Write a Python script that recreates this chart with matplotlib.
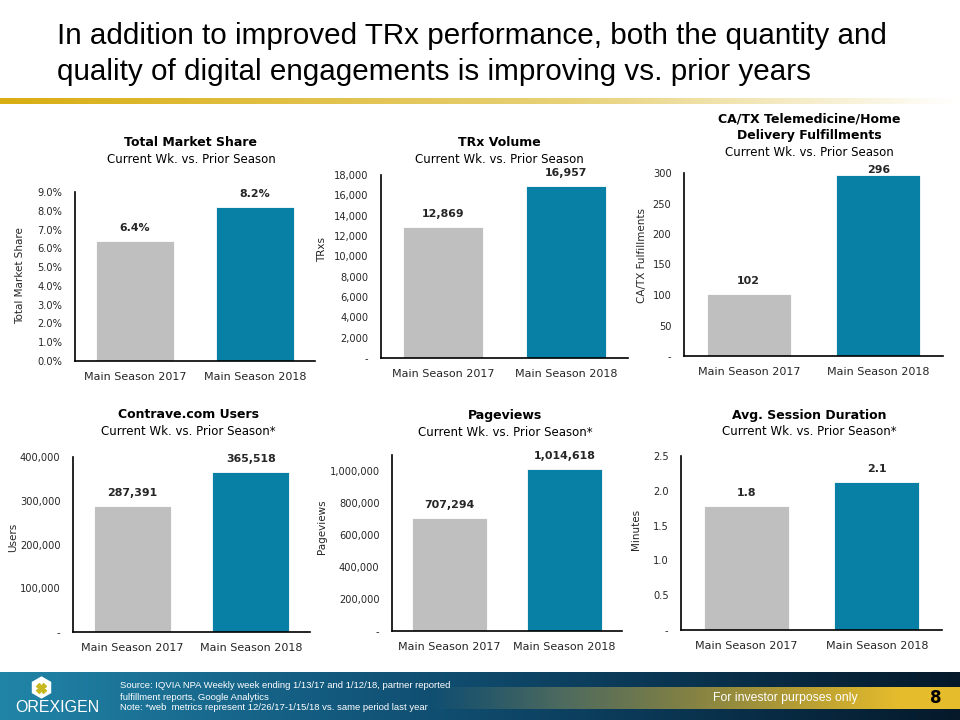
import numpy as np
import matplotlib
matplotlib.use("Agg")
import matplotlib.pyplot as plt
from matplotlib.colors import to_rgb
from matplotlib.ticker import FuncFormatter

plt.rcParams['font.family'] = ['DejaVu Sans']
NARROW = ['Liberation Sans', 'DejaVu Sans']

# data
categories = ["Main Season 2017", "Main Season 2018"]
share = [6.4, 8.2]
trx = [12869, 16957]
fulfill = [102, 296]
users = [287391, 365518]
pageviews = [707294, 1014618]
minutes = [1.78, 2.13]

GREY = "#BFBFBF"
BLUE = "#0880A6"
TXT = "#262626"

fig = plt.figure(figsize=(9.6, 7.2), dpi=100)

# background axes in pixel coordinates for decorations
bg = fig.add_axes([0, 0, 1, 1], zorder=-1)
bg.set_xlim(0, 960)
bg.set_ylim(720, 0)
bg.axis("off")

# main title
bg.text(57, 36, "In addition to improved TRx performance, both the quantity and",
        fontsize=21.3, family=NARROW, color="black", va="center", ha="left")
bg.text(57, 72, "quality of digital engagements is improving vs. prior years",
        fontsize=21.3, family=NARROW, color="black", va="center", ha="left")

# gold rule under title
gx = np.linspace(0, 1, 960)
c0 = np.array(to_rgb("#D9AE12"))
c1 = np.array(to_rgb("#E8D27A"))
c2 = np.array([1.0, 1.0, 1.0])
rule = np.zeros((1, 960, 3))
for i, t in enumerate(gx):
    if t < 0.6:
        rule[0, i] = c0 + (c1 - c0) * t / 0.6
    else:
        rule[0, i] = c1 + (c2 - c1) * (t - 0.6) / 0.4
bg.imshow(rule, extent=(0, 960, 104, 98), aspect="auto", interpolation="bilinear")

# footer band
H, W = 48, 960
stops = [(0.0, "#2185A8"), (0.35, "#13597E"), (0.65, "#0B3A58"), (1.0, "#05192A")]
foot = np.zeros((H, W, 3))
xs = np.linspace(0, 1, W)
for j, t in enumerate(xs):
    for k in range(len(stops) - 1):
        a, ca = stops[k]
        b, cb = stops[k + 1]
        if a <= t <= b:
            f = (t - a) / (b - a)
            foot[:, j] = np.array(to_rgb(ca)) * (1 - f) + np.array(to_rgb(cb)) * f
            break
gold = np.array(to_rgb("#D4A911"))
for j in range(W):
    al = np.clip((j - 430) / 470, 0, 1) ** 1.1
    band = foot[15:37, j] * (1 - al) + (gold * 0.95 + 0.05) * al
    foot[15:37, j] = np.clip(band + 0.06 * min(1.0, al * 4), 0, 1)
bg.imshow(foot, extent=(0, 960, 720, 672), aspect="auto", interpolation="bilinear")

bg.text(120, 686, "Source: IQVIA NPA Weekly week ending 1/13/17 and 1/12/18, partner reported",
        fontsize=6.8, family=NARROW, color="white", va="center")
bg.text(120, 697, "fulfillment reports, Google Analytics",
        fontsize=6.8, family=NARROW, color="white", va="center")
bg.text(120, 708, "Note: *web  metrics represent 12/26/17-1/15/18 vs. same period last year",
        fontsize=6.8, family=NARROW, color="white", va="center")
bg.text(785, 698, "For investor purposes only", fontsize=8.8, family=NARROW,
        color="white", va="center", ha="center")
bg.text(936, 698, "8", fontsize=12, fontweight="bold", color="black",
        va="center", ha="center")
bg.plot([41], [687], marker="h", markersize=15, color="white")
bg.plot([41], [688], marker="X", markersize=7, color="#C8B820")
bg.text(57, 708, "OREXIGEN", fontsize=11.5, family=NARROW, color="white",
        va="center", ha="center")


def make_panel(rect_px, values, title_lines, subtitle, title_xy, ylabel, ylab_xy,
               ylim, ticks, tickfmt, valfmt):
    left, top, right, bottom = rect_px
    ax = fig.add_axes([left / 960, 1 - bottom / 720, (right - left) / 960, (bottom - top) / 720])
    x = np.arange(len(categories))
    ax.bar(x, values, width=0.65, color=[GREY, BLUE], edgecolor="white", linewidth=0.6)
    ax.set_xlim(-0.5, 1.5)
    ax.set_ylim(*ylim)
    ax.set_xticks(x)
    ax.set_xticklabels(categories, fontsize=8, color=TXT)
    ax.set_yticks(ticks)
    ax.yaxis.set_major_formatter(FuncFormatter(tickfmt))
    ax.tick_params(axis="x", length=0, pad=8)
    ax.tick_params(axis="y", length=0, pad=9, labelsize=7.1, labelcolor=TXT)
    for s in ["top", "right"]:
        ax.spines[s].set_visible(False)
    for s in ["left", "bottom"]:
        ax.spines[s].set_color("black")
        ax.spines[s].set_linewidth(1.2)
    # value labels sit ~13px above the bar, pushed down if they would leave the plot area
    h_px = bottom - top
    for xi, v in zip(x, values):
        room = h_px * (1 - v / ylim[1]) + 3
        off = min(13, room) * 0.72
        ax.annotate(valfmt(v), (xi, v), xytext=(0, off), textcoords="offset points",
                    ha="center", va="center", fontsize=7.9, fontweight="bold", color=TXT)
    ax.text(ylab_xy[0], ylab_xy[1], ylabel, rotation=90, ha="center", va="center",
            fontsize=7.5, color=TXT, transform=fig.transFigure)
    tx, ty = title_xy
    for i, line in enumerate(title_lines):
        bg.text(tx, ty + 16.5 * i, line, fontsize=9, fontweight="bold", color="black",
                ha="center", va="center")
    bg.text(tx, ty + 16.5 * len(title_lines), subtitle, fontsize=8.5, color="black",
            ha="center", va="center")
    return ax


def dash_int(v, pos):
    return "-" if v == 0 else f"{v:,.0f}"


def dash_dec(v, pos):
    return "-" if v == 0 else f"{v:.1f}"


make_panel((75, 192, 315, 361), share, ["Total Market Share"], "Current Wk. vs. Prior Season",
           (191, 143), "Total Market Share", (20 / 960, 1 - 276 / 720),
           (0, 9.0), np.arange(0, 9.01, 1.0), lambda v, p: f"{v:.1f}%", lambda v: f"{v:.1f}%")
make_panel((381, 175, 628, 358), trx, ["TRx Volume"], "Current Wk. vs. Prior Season",
           (499, 143), "TRxs", (322 / 960, 1 - 250 / 720),
           (0, 18000), np.arange(0, 18001, 2000), dash_int, lambda v: f"{v:,.0f}")
make_panel((684, 173, 943, 356), fulfill, ["CA/TX Telemedicine/Home", "Delivery Fulfillments"],
           "Current Wk. vs. Prior Season",
           (809, 119), "CA/TX Fulfillments", (642 / 960, 1 - 255 / 720),
           (0, 300), np.arange(0, 301, 50), dash_int, lambda v: f"{v:,.0f}")
make_panel((73, 457, 310, 632), users, ["Contrave.com Users"], "Current Wk. vs. Prior Season*",
           (188, 415), "Users", (13 / 960, 1 - 537 / 720),
           (0, 400000), np.arange(0, 400001, 100000), dash_int, lambda v: f"{v:,.0f}")
make_panel((392, 455, 622, 631), pageviews, ["Pageviews"], "Current Wk. vs. Prior Season*",
           (505, 416), "Pageviews", (322 / 960, 1 - 527 / 720),
           (0, 1100000), np.arange(0, 1000001, 200000), dash_int, lambda v: f"{v:,.0f}")
make_panel((681, 456, 942, 630), minutes, ["Avg. Session Duration"], "Current Wk. vs. Prior Season*",
           (809, 415), "Minutes", (636 / 960, 1 - 529 / 720),
           (0, 2.5), np.arange(0, 2.51, 0.5), dash_dec, lambda v: f"{v:.1f}")

fig.savefig("out.png", dpi=100)
